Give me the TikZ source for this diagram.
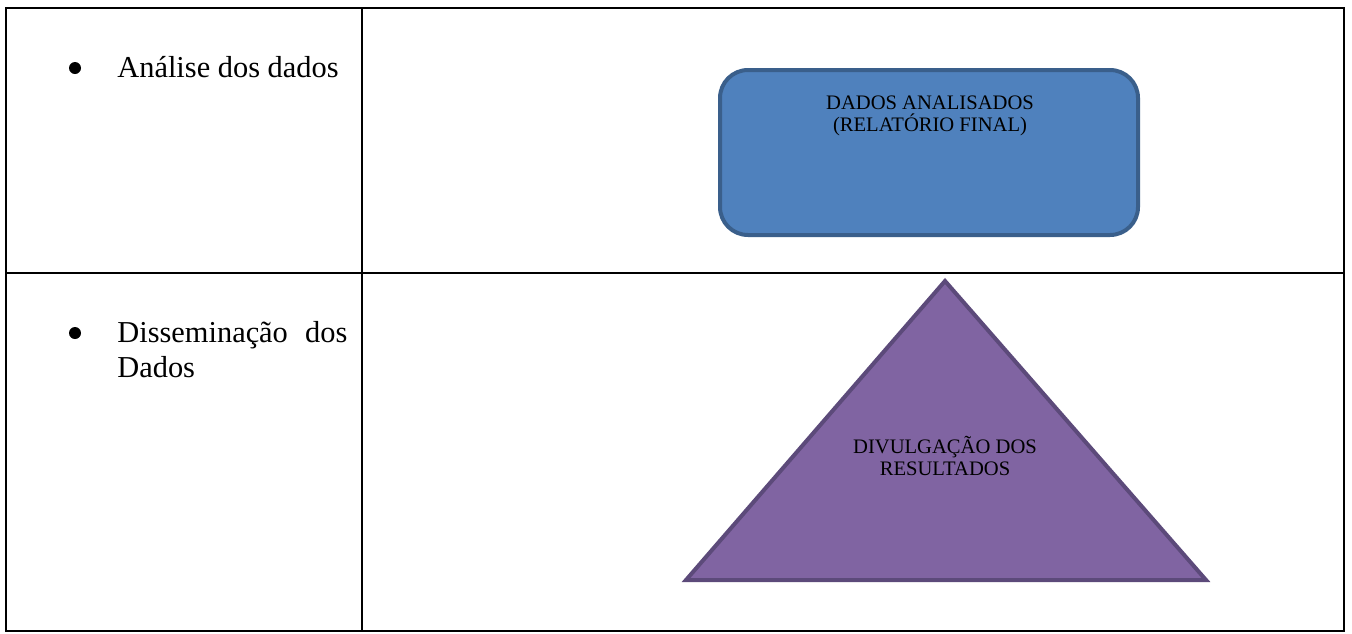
\documentclass[tikz,border=0pt]{standalone}
\usepackage{fontspec}
\setmainfont{Liberation Serif}
\definecolor{azulcaixa}{HTML}{4F81BD}
\definecolor{azulborda}{HTML}{3A5F8B}
\definecolor{roxocaixa}{HTML}{8064A2}
\definecolor{roxoborda}{HTML}{5C4A7A}
\begin{document}
\begin{tikzpicture}[x=0.5pt, y=-0.5pt,
    grade/.style={line width=1.1pt, black},
    marca/.style={circle, fill=black, inner sep=0pt, minimum size=6pt},
    item/.style={inner sep=0pt, font=\fontsize{15.2}{17.5}\selectfont},
    rotulo/.style={align=center, inner sep=0pt, font=\fontsize{10.3}{11}\selectfont}]

            \useasboundingbox (0,0) rectangle (1352,633);

            % Tabela
            \draw[grade] (6,8) rectangle (1344,631);
            \draw[grade] (362,8) -- (362,631);
            \draw[grade] (6,273) -- (1344,273);

            % Coluna da esquerda
            \node[marca] (m1) at (75,68) {};
            \node[item, anchor=base west] (analise) at (117,77) {Análise dos dados};
            \node[marca] (m2) at (75,333) {};
            \node[item, anchor=north west, text width=115pt, align=justify] (dissem) at (117,321) {Disseminação dos Dados};

            % Caixa azul
            \node[draw=azulborda, fill=azulcaixa, line width=2pt, rounded corners=14pt,
                  minimum width=209pt, minimum height=82.5pt, inner sep=0pt] (caixa) at (929,152.5) {};
            \node[rotulo] (txtcaixa) at (930,116) {DADOS ANALISADOS\\(RELATÓRIO FINAL)};

            % Triangulo
            \draw[draw=roxoborda, fill=roxocaixa, line width=2pt, line join=miter]
                (945,281) -- (1206,580) -- (686,580) -- cycle;
            \node[rotulo] (txttriang) at (945,456) {DIVULGAÇÃO DOS\\RESULTADOS};

        \end{tikzpicture}
\end{document}
